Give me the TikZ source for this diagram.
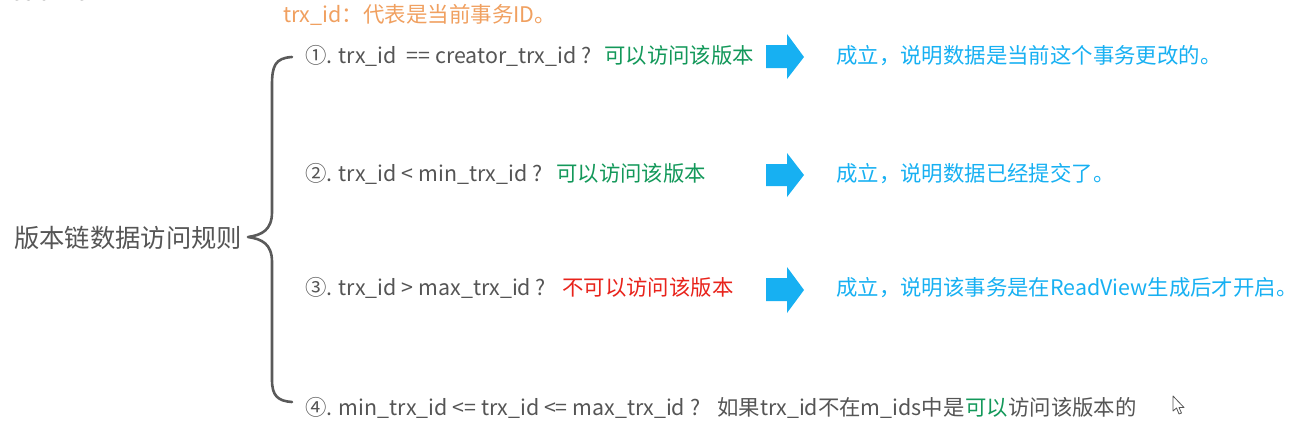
\documentclass[tikz,border=0pt]{standalone}
\usepackage{fontspec}
\setmainfont{Noto Sans CJK SC}
\definecolor{txtgray}{HTML}{555555}
\definecolor{bracegray}{HTML}{5A5A5A}
\definecolor{okgreen}{HTML}{13985A}
\definecolor{nored}{HTML}{E8231B}
\definecolor{skyblue}{HTML}{17B0F2}
\definecolor{titleorange}{HTML}{F0A060}
\begin{document}
\begin{tikzpicture}[x=1pt,y=-1pt,
  txt/.style={anchor=base west,inner sep=0pt,font=\fontsize{21.4}{25}\selectfont,text=txtgray},
  ok/.style={txt,text=okgreen},
  no/.style={txt,text=nored},
  res/.style={txt,text=skyblue},
  bluearrow/.style={fill=skyblue,draw=none}]
\useasboundingbox (0,0) rectangle (1305,424);
\begin{scope}
\clip (0,0) rectangle (1305,424);
\node[anchor=base west,inner sep=0pt,font=\fontsize{25}{28}\selectfont,text=txtgray] (rv) at (-6,0) {ReadView};
\end{scope}
\node[anchor=base west,inner sep=0pt,font=\fontsize{21.5}{24}\selectfont,text=titleorange] (title) at (283,22) {trx\_id：代表是当前事务ID。};
\node[anchor=base west,inner sep=0pt,font=\fontsize{25.3}{29}\selectfont,text=txtgray] (label) at (14,247) {版本链数据访问规则};
% brace
\coordinate (bt) at (292,57);
\coordinate (bb) at (292,402);
\coordinate (tip) at (248,237);
\draw[bracegray,line width=2.6pt,line cap=round,line join=round]
  (bt) .. controls (275,58) and (272,66) .. (272,85) -- (272,212)
  .. controls (272,230) and (262,235) .. (tip)
  .. controls (262,239) and (272,244) .. (272,262) -- (272,380)
  .. controls (272,396) and (278,401) .. (bb);
% line 1
\node[txt] (q1) at (305,63) {①. trx\_id\ \ == creator\_trx\_id ?};
\node[ok] (a1) at (604,63) {可以访问该版本};
\fill[bluearrow] (766,45) -- (787,45) -- (787,34) -- (804,57) -- (787,79) -- (787,68) -- (766,68) -- cycle;
\node[res] (r1) at (836,63) {成立，说明数据是当前这个事务更改的。};
% line 2
\node[txt] (q2) at (305,181) {②. trx\_id < min\_trx\_id ?};
\node[ok] (a2) at (556,181) {可以访问该版本};
\fill[bluearrow] (766,164) -- (787,164) -- (787,153) -- (804,175) -- (787,197) -- (787,186) -- (766,186) -- cycle;
\node[res] (r2) at (836,181) {成立，说明数据已经提交了。};
% line 3
\node[txt] (q3) at (305,295) {③. trx\_id > max\_trx\_id ?};
\node[no] (a3) at (562,295) {不可以访问该版本};
\fill[bluearrow] (766,278) -- (787,278) -- (787,267) -- (804,290) -- (787,313) -- (787,301) -- (766,301) -- cycle;
\node[res] (r3) at (836,295) {成立，说明该事务是在ReadView生成后才开启。};
% line 4
\node[txt] (q4) at (305,415) {④. min\_trx\_id <= trx\_id <= max\_trx\_id ?};
\node[txt] (c4) at (717,415) {如果trx\_id不在m\_ids中是};
\node[ok] (a4) at (c4.base east) {可以};
\node[txt] (d4) at (a4.base east) {访问该版本的};
% cursor
\draw[txtgray,line width=0.8pt,fill=white,line join=round]
  (1173,396) -- (1173,411) -- (1176.5,408) -- (1179,414) -- (1181.5,413) -- (1179,407.5) -- (1184,407.5) -- cycle;
\end{tikzpicture}
\end{document}
